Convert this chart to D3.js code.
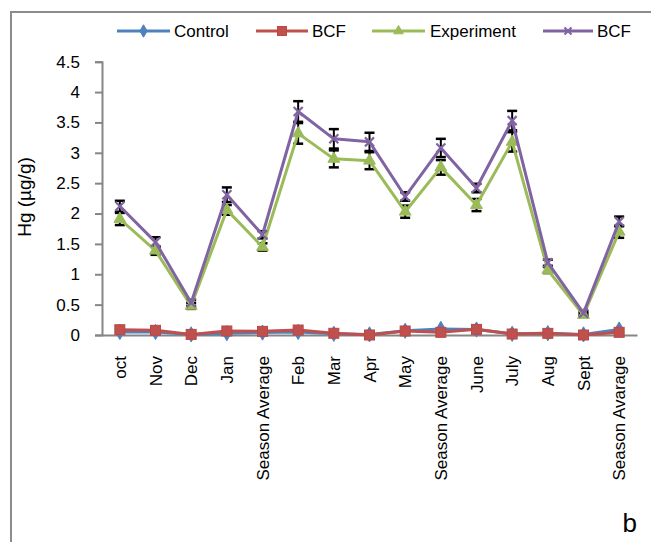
<!DOCTYPE html>
<html>
<head>
<meta charset="utf-8">
<script src="https://cdn.jsdelivr.net/npm/d3@7"></script>
<style>
  html, body { margin: 0; padding: 0; background: #fff; }
  svg { display: block; font-family: "Liberation Sans", Arial, sans-serif; }
</style>
</head>
<body>
<svg id="chart" width="651" height="542"></svg>
<script>
const categories = ["oct","Nov","Dec","Jan","Season Average","Feb","Mar","Apr","May","Season Average","June","July","Aug","Sept","Season Avarage"];
const seriesNames = ["Control","BCF","Experiment","BCF"];
const controlValues = [0.05,0.05,0.01,0.03,0.04,0.05,0.02,0.01,0.07,0.10,0.09,0.02,0.03,0.01,0.09];
const bcfValues = [0.087,0.077,0.01,0.066,0.06,0.082,0.028,0.0,0.066,0.044,0.093,0.016,0.027,0.0,0.044];
const experimentValues = [1.91,1.39,0.48,2.06,1.45,3.32,2.90,2.87,2.03,2.76,2.14,3.18,1.07,0.33,1.70];
const bcf2Values = [2.12,1.53,0.53,2.31,1.65,3.68,3.23,3.18,2.28,3.08,2.42,3.53,1.19,0.36,1.87];
const experimentErrors = [0.10,0.07,0.05,0.08,0.06,0.17,0.14,0.14,0.10,0.12,0.10,0.16,0.05,0.03,0.10];
const bcf2Errors = [0.09,0.08,0.05,0.12,0.06,0.17,0.16,0.15,0.07,0.15,0.07,0.16,0.05,0.03,0.08];
const yTicks = [0,0.5,1,1.5,2,2.5,3,3.5,4,4.5];
const yLabel = "Hg (µg/g)";
const panelLabel = "b";

const colors = ["#4F81BD","#C0504D","#9BBB59","#8064A2"];
const markers = ["diamond","square","triangle","x"];
const seriesData = [controlValues, bcfValues, experimentValues, bcf2Values];
const errorData = [null, null, experimentErrors, bcf2Errors];

const svg = d3.select("#chart");

// outer frame (top and left edges visible)
svg.append("path").attr("d","M11,542 L11,12 L651,12")
  .attr("fill","none").attr("stroke","#8c8c8c").attr("stroke-width",2);

const x = d3.scaleBand().domain(d3.range(categories.length)).range([102, 637]);
const y = d3.scaleLinear().domain([0, 4.5]).range([335, 61.7]);
const cx = i => x(i) + x.bandwidth()/2;

// y axis
const yAxis = svg.append("g").attr("transform","translate(102,0)")
  .call(d3.axisLeft(y).tickValues(yTicks).tickSize(7).tickPadding(15).tickFormat(d => String(d)));
yAxis.select(".domain").attr("stroke","#868686").attr("stroke-width",2);
yAxis.selectAll(".tick line").attr("stroke","#868686").attr("stroke-width",2);
yAxis.selectAll(".tick text").attr("font-size",17).attr("fill","#000")
  .attr("font-family","Liberation Sans, Arial, sans-serif");

// x axis line
const xAxis = svg.append("g").attr("transform","translate(0,335)")
  .call(d3.axisBottom(x).tickSize(0).tickFormat(""));
xAxis.select(".domain").attr("stroke","#868686").attr("stroke-width",2);

// x labels
svg.append("g").selectAll("text").data(categories).join("text")
  .attr("transform",(d,i)=>`translate(${cx(i)+6},356) rotate(-90)`)
  .attr("text-anchor","end")
  .attr("font-size",17)
  .attr("fill","#000")
  .text(d=>d);

// y label
svg.append("text")
  .attr("transform","translate(31,197) rotate(-90)")
  .attr("text-anchor","middle")
  .attr("font-size",19)
  .attr("fill","#000")
  .text(yLabel);

// marker drawing
function drawMarker(g, type, px, py, color, size) {
  if (type === "diamond") {
    g.append("path").attr("d", d3.symbol(d3.symbolDiamond, size*size*0.55)())
      .attr("transform",`translate(${px},${py})`).attr("fill",color).attr("stroke",color).attr("stroke-width",1);
  } else if (type === "square") {
    g.append("rect").attr("x",px-size/2).attr("y",py-size/2).attr("width",size).attr("height",size)
      .attr("fill",color).attr("stroke","#b84946").attr("stroke-width",1);
  } else if (type === "triangle") {
    g.append("path").attr("d", d3.symbol(d3.symbolTriangle, size*size*0.5)())
      .attr("transform",`translate(${px},${py})`).attr("fill",color).attr("stroke",color).attr("stroke-width",1);
  } else if (type === "x") {
    const h = size/2;
    g.append("path").attr("d",`M${px-h},${py-h}L${px+h},${py+h}M${px-h},${py+h}L${px+h},${py-h}`)
      .attr("stroke",color).attr("stroke-width",2.2).attr("fill","none");
  }
}

// error bars
const eg = svg.append("g");
[2,3].forEach(s => {
  seriesData[s].forEach((v,i) => {
    const e = errorData[s][i];
    const x0 = cx(i), y1 = y(v+e), y2 = y(v-e);
    eg.append("line").attr("x1",x0).attr("x2",x0).attr("y1",y1).attr("y2",y2)
      .attr("stroke","#000").attr("stroke-width",2);
    [y1,y2].forEach(yy => eg.append("line").attr("x1",x0-5).attr("x2",x0+5).attr("y1",yy).attr("y2",yy)
      .attr("stroke","#000").attr("stroke-width",2.5));
  });
});

// series
const line = d3.line().x((d,i)=>cx(i)).y(d=>y(d));
seriesData.forEach((vals, s) => {
  const g = svg.append("g");
  g.append("path").datum(vals).attr("d", line)
    .attr("fill","none").attr("stroke",colors[s]).attr("stroke-width",3).attr("stroke-linejoin","round");
  const size = s===1 ? 10 : (s===3 ? 9 : 11);
  vals.forEach((v,i) => drawMarker(g, markers[s], cx(i), y(v), colors[s], size));
});

// legend
const legendItems = [
  {x1:117, x2:170, tx:174},
  {x1:256, x2:308, tx:312},
  {x1:372, x2:425, tx:430},
  {x1:543, x2:593, tx:597}
];
const lg = svg.append("g");
legendItems.forEach((it, s) => {
  const ly = 31;
  lg.append("line").attr("x1",it.x1).attr("x2",it.x2).attr("y1",ly).attr("y2",ly)
    .attr("stroke",colors[s]).attr("stroke-width",3);
  drawMarker(lg, markers[s], (it.x1+it.x2)/2, ly, colors[s], s===3 ? 7 : 9);
  lg.append("text").attr("x",it.tx).attr("y",ly).attr("dy","0.35em")
    .attr("font-size",17).attr("fill","#000").text(seriesNames[s]);
});

// panel label
svg.append("text").attr("x",637).attr("y",532).attr("text-anchor","end")
  .attr("font-size",26).attr("fill","#000").text(panelLabel);
</script>
</body>
</html>
